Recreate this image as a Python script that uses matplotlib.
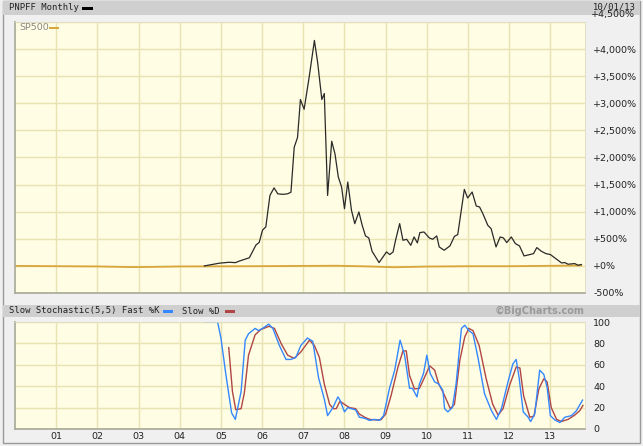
import matplotlib
matplotlib.use("Agg")
import matplotlib.pyplot as plt
from matplotlib.patches import Rectangle

# --- data ---
pnpff_t = [2004.60, 2004.96, 2005.20, 2005.35, 2005.45, 2005.69, 2005.85, 2005.93,
           2006.01, 2006.09, 2006.19, 2006.29, 2006.38, 2006.50, 2006.62, 2006.70,
           2006.78, 2006.86, 2006.93, 2007.02, 2007.14, 2007.27, 2007.35, 2007.45,
           2007.51, 2007.59, 2007.69, 2007.77, 2007.85, 2007.93, 2008.00, 2008.08,
           2008.17, 2008.25, 2008.35, 2008.43, 2008.51, 2008.59, 2008.67, 2008.84,
           2009.02, 2009.10, 2009.18, 2009.24, 2009.34, 2009.42, 2009.51, 2009.61,
           2009.69, 2009.77, 2009.83, 2009.93, 2010.06, 2010.14, 2010.24, 2010.30,
           2010.42, 2010.56, 2010.67, 2010.75, 2010.91, 2010.99, 2011.10, 2011.20,
           2011.28, 2011.36, 2011.48, 2011.56, 2011.68, 2011.78, 2011.86, 2011.94,
           2012.05, 2012.15, 2012.25, 2012.36, 2012.50, 2012.59, 2012.67, 2012.78,
           2012.89, 2013.00, 2013.15, 2013.27, 2013.35, 2013.43, 2013.59, 2013.67,
           2013.75]
pnpff_v = [0, 50, 67, 60, 90, 150, 385, 434,
           660, 720, 1300, 1440, 1330, 1320, 1330, 1360,
           2190, 2370, 3070, 2890, 3470, 4160, 3745, 3070,
           3180, 1300, 2300, 2065, 1640, 1455, 1056, 1547,
           1025, 780, 995, 750, 553, 516, 270, 61,
           258, 209, 258, 473, 780, 473, 491, 380,
           534, 424, 614, 626, 516, 491, 553, 350,
           289, 368, 546, 577, 1412, 1253, 1363, 1105,
           1087, 964, 749, 688, 350, 534, 516, 430,
           534, 411, 368, 184, 209, 227, 338, 270,
           227, 209, 123, 55, 61, 31, 43, 12,
           25]

sp500_t = [2000.0, 2001.0, 2002.0, 2002.8, 2003.2, 2004.0, 2005.0, 2006.0, 2007.0,
           2007.8, 2008.5, 2009.2, 2010.0, 2011.0, 2012.0, 2013.0, 2013.75]
sp500_v = [0, -5, -10, -22, -20, -10, -8, -5, 0, 3, -8, -25, -12, -6, -6, 2, 8]

pctk_t = [2004.60, 2004.92, 2005.00, 2005.12, 2005.26, 2005.35, 2005.49, 2005.59,
          2005.67, 2005.83, 2005.91, 2006.01, 2006.16, 2006.26, 2006.42, 2006.58,
          2006.70, 2006.82, 2006.94, 2007.10, 2007.23, 2007.37, 2007.51, 2007.59,
          2007.72, 2007.84, 2007.89, 2008.00, 2008.08, 2008.16, 2008.27, 2008.36,
          2008.49, 2008.61, 2008.73, 2008.85, 2008.95, 2009.09, 2009.22, 2009.35,
          2009.46, 2009.58, 2009.65, 2009.76, 2009.82, 2009.92, 2010.00, 2010.08,
          2010.19, 2010.29, 2010.39, 2010.43, 2010.51, 2010.62, 2010.71, 2010.84,
          2010.92, 2011.02, 2011.12, 2011.24, 2011.40, 2011.57, 2011.69, 2011.81,
          2011.97, 2012.09, 2012.17, 2012.24, 2012.34, 2012.46, 2012.52, 2012.62,
          2012.74, 2012.84, 2012.92, 2013.00, 2013.11, 2013.23, 2013.35, 2013.51,
          2013.63, 2013.78]
pctk_v = [100, 100, 85, 51, 15, 9, 35, 83,
          89, 94, 92, 94, 98, 94, 78, 65,
          65, 67, 78, 85, 82, 48, 28, 12.5,
          20, 30, 27, 16, 20, 19, 18, 11,
          10, 8, 9, 8, 12.5, 37.5, 55, 83,
          69, 38, 38, 30, 42, 52, 69, 52,
          44, 42, 36, 19, 16, 20, 42, 94,
          97, 92, 89, 67, 33, 17, 9, 19,
          44, 61, 65, 48, 16, 11, 7, 14,
          55, 51, 39, 12.5, 8.4, 6, 11, 12.5,
          17, 27]

pctd_t = [2005.19, 2005.28, 2005.36, 2005.49, 2005.57, 2005.67, 2005.83, 2005.97,
          2006.17, 2006.30, 2006.46, 2006.62, 2006.78, 2006.94, 2007.15, 2007.27,
          2007.39, 2007.51, 2007.64, 2007.73, 2007.80, 2007.89, 2008.00, 2008.12,
          2008.27, 2008.36, 2008.49, 2008.61, 2008.77, 2008.89, 2009.00, 2009.13,
          2009.30, 2009.42, 2009.50, 2009.58, 2009.70, 2009.82, 2009.94, 2010.07,
          2010.19, 2010.29, 2010.41, 2010.57, 2010.67, 2010.80, 2010.92, 2011.02,
          2011.12, 2011.27, 2011.44, 2011.60, 2011.73, 2011.85, 2012.01, 2012.17,
          2012.26, 2012.35, 2012.50, 2012.60, 2012.72, 2012.84, 2012.92, 2013.02,
          2013.15, 2013.27, 2013.43, 2013.59, 2013.71, 2013.79]
pctd_v = [76, 35, 18, 19, 34, 69, 88, 93,
          96, 94, 80, 69, 66, 72, 83, 78,
          67, 42, 23, 19, 19, 26, 23, 20,
          19, 14, 11, 9, 8.4, 8.8, 14, 31,
          58, 73, 73, 50, 37.5, 38, 48, 59,
          55, 42, 33, 19, 23, 64, 86, 94,
          92, 78, 47, 23, 13, 19, 41, 58,
          57, 31, 11, 12, 37.5, 47, 44, 20,
          9, 7, 9, 13, 17, 22]

years = list(range(2001, 2014))
year_labels = ["%02d" % (y % 100) for y in years]
main_ticks = list(range(-500, 4001, 500))
stoch_ticks = [0, 20, 40, 60, 80, 100]

# --- layout helpers (pixel coords of the 643x446 image) ---
W, H = 643, 446
BG = "#f0f0f0"
PLOT_BG = "#fffde3"
GRID = "#e8e3b4"
BAR = "#cfcfcf"


def fx(x):
    return x / W


def fy(y):
    return 1 - y / H


def axes_px(x0, y0, x1, y1):
    return [fx(x0), fy(y1), (x1 - x0) / W, (y1 - y0) / H]


def fig_rect(x0, y0, x1, y1, color, **kw):
    fig.patches.append(Rectangle((fx(x0), fy(y1)), (x1 - x0) / W, (y1 - y0) / H,
                                 transform=fig.transFigure, facecolor=color,
                                 edgecolor=kw.pop("edgecolor", "none"), **kw))


fig = plt.figure(figsize=(W / 100, H / 100), dpi=100)
fig.patch.set_facecolor(BG)

# outer frame and header bars
fig_rect(3, 1, 640, 443, "none", edgecolor="#9a9a9a", lw=1)
fig_rect(3, 1, 640, 15, BAR)
fig_rect(3, 305, 640, 317, BAR)

mono = dict(family="DejaVu Sans Mono", fontsize=6.4, va="center", color="#222")
fig.text(fx(9), fy(8), "PNPFF Monthly", **mono)
fig_rect(82, 7, 93, 10, "#000")
fig.text(fx(636), fy(7), "10/01/13", ha="right", **mono)

fig.text(fx(9), fy(311), "Slow Stochastic(5,5) Fast %K", **mono)
fig_rect(163, 310, 173, 312.5, "#3388ff")
fig.text(fx(182), fy(311), "Slow %D", **mono)
fig_rect(225, 310, 235, 312.5, "#b04545")
fig.text(fx(585), fy(311), "\u00a9BigCharts.com", ha="right", va="center",
         fontsize=7, fontweight="bold", color="#9a9a9a", family="DejaVu Sans")


def style_axes(ax):
    ax.set_facecolor(PLOT_BG)
    ax.grid(True, color=GRID, lw=1)
    ax.set_axisbelow(True)
    for side in ("top", "right"):
        ax.spines[side].set_color("#e0dcc0")
        ax.spines[side].set_linewidth(0.6)
    for side in ("left", "bottom"):
        ax.spines[side].set_color("#a8a898")
        ax.spines[side].set_linewidth(1.2)
    ax.yaxis.tick_right()
    ax.tick_params(axis="y", length=0, pad=6, labelsize=6.8, labelcolor="#222")
    ax.tick_params(axis="x", length=0)
    ax.set_xlim(2000.0, 2013.84)
    ax.set_xticks(years)


# --- main price panel ---
ax = fig.add_axes(axes_px(15, 22, 585, 293))
style_axes(ax)
ax.set_ylim(-500, 4500)
ax.set_yticks(main_ticks + [4500])
ax.set_yticklabels([("+" if v >= 0 else "-") + "{:,}%".format(abs(v)) for v in main_ticks] + [""])
for lab in ax.get_yticklabels():
    lab.set_horizontalalignment("left")
ax.set_xticklabels([])
ax.plot(sp500_t, sp500_v, color="#d8a63a", lw=1.3)
ax.plot(pnpff_t, pnpff_v, color="#2a2a2a", lw=0.9)
fig.text(fx(591), fy(15), "+4,500%", fontsize=6.8, color="#222", va="center")
fig.text(fx(19), fy(27), "SP500", fontsize=6.8, color="#888", va="center")
fig_rect(49, 26.5, 59, 29, "#d8a63a")

# --- stochastic panel ---
ax2 = fig.add_axes(axes_px(15, 322, 585, 429))
style_axes(ax2)
ax2.set_ylim(0, 100)
ax2.set_yticks(stoch_ticks)
ax2.set_yticklabels([str(v) for v in stoch_ticks])
for lab in ax2.get_yticklabels():
    lab.set_horizontalalignment("left")
ax2.set_xticklabels(year_labels, fontsize=6.8, color="#222")
ax2.tick_params(axis="x", pad=2)
ax2.plot(pctd_t, pctd_v, color="#b04545", lw=1.0)
ax2.plot(pctk_t, pctk_v, color="#3388ff", lw=1.0)

fig.savefig("out.png", dpi=100, facecolor=BG)
